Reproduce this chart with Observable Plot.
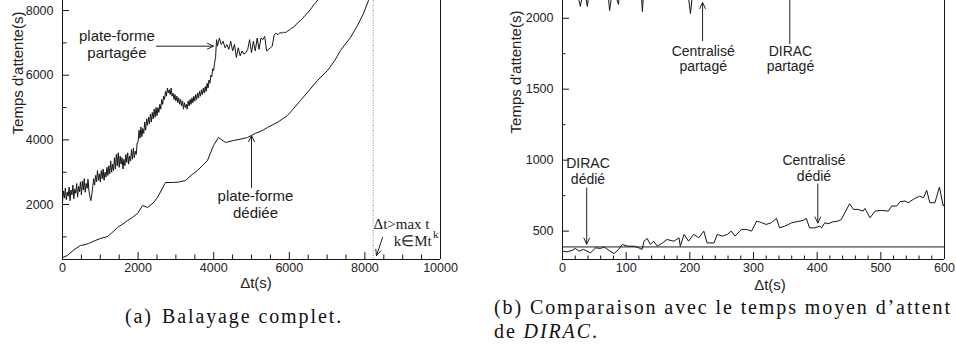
<!DOCTYPE html>
<html><head><meta charset="utf-8">
<script src="https://cdn.jsdelivr.net/npm/d3@7"></script>
<script src="https://cdn.jsdelivr.net/npm/@observablehq/plot@0.6"></script>
<style>
html,body{margin:0;padding:0;background:#fff;}
#wrap{position:relative;width:956px;height:357px;overflow:hidden;background:#fff;font-family:"Liberation Sans",Arial,sans-serif;color:#222;}
.panel{position:absolute;top:0;}
.lab{position:absolute;font-size:15px;line-height:1;white-space:nowrap;}
.ylab{transform:translate(-50%,-50%) rotate(-90deg);}
.xlab{transform:translate(-50%,-50%);line-height:11px;}
.cap{position:absolute;font-family:"Liberation Serif",serif;font-size:20px;letter-spacing:1.9px;white-space:nowrap;line-height:1;color:#111;}
</style></head>
<body><div id="wrap">
<div id="left" class="panel" style="left:0;width:480px"></div>
<div id="right" class="panel" style="left:480px;width:476px"></div>
<div class="lab ylab" style="left:17px;top:73px">Temps d'attente(s)</div>
<div class="lab ylab" style="left:515px;top:72px">Temps d'attente(s)</div>
<div class="lab xlab" style="left:256px;top:282px">Δt(s)</div>
<div class="lab xlab" style="left:770px;top:284px">Δt(s)</div>
<div class="cap" style="left:125px;top:306px">(a)<span style="margin-left:9px">Balayage complet.</span></div>
<div class="cap" style="left:494px;top:297px">(b) Comparaison avec le temps moyen d’attent</div>
<div class="cap" style="left:494px;top:321px">de <i>DIRAC</i>.</div>
</div>
<script>
// ---------- Left panel data (a) ----------
const dedieeT = [0,130,300,476,600,688,850,1005,1100,1190,1300,1455,1600,1720,1850,1984,2116,2249,2400,2513,2725,2937,3100,3254,3400,3571,3700,3836,3995,4127,4312,4524,4700,4894,5100,5291,5423,5700,5952,6100,6296,6500,6746,7011,7200,7354,7619,7804,7963,8095,8250];
const dedieeW = [362,424,600,733,760,795,880,950,980,1011,1120,1290,1400,1506,1600,1723,1971,1908,2050,2218,2682,2682,2700,2744,2900,3053,3200,3363,3827,4074,3919,3981,4020,4074,4200,4291,4384,4550,4755,4950,5218,5500,5837,6146,6450,6765,7167,7539,7910,8311,8800];
// shared platform: dense sampling (every 25 s) up to 4075 s, then every 50 s
const partageeEarlyStart = 0, partageeEarlyStep = 25;
const partageeEarlyW = [
2080,2420,2200,2510,2150,2380,2260,2540,2120,2450,2300,2600,2180,2480,2350,2650,2230,2560,2400,2700,
2300,2720,2450,2800,2380,2650,2500,2780,2420,2250,2120,2300,2550,2800,2600,2900,2700,3050,2750,2950,
2700,3050,2800,3100,2750,3000,2850,3150,2900,3200,2950,3350,3000,3250,3050,3450,3100,3550,3200,3600,
3150,3500,3250,3450,3100,3400,3200,3550,3300,3600,3250,3500,3350,3700,3400,3750,3450,3650,3550,3900,
3950,4300,4050,4400,4100,4350,4200,4550,4300,4650,4450,4700,4500,4800,4550,4850,4650,4950,4700,5000,
4750,5000,4850,5100,4950,5250,5100,5350,5250,5500,5350,5600,5450,5550,5400,5600,5350,5450,5250,5400,
5200,5350,5150,5300,5100,5250,5050,5200,4950,5150,5000,5100,4950,5200,5050,5250,5100,5300,5150,5350,
5200,5400,5250,5450,5300,5500,5350,5550,5400,5600,5450,5650,5500,5750,5600,5850,5750,6000,5950,6200,
6150,6400,6550,7100];
const partageeLateStart = 4100, partageeLateStep = 50;
const partageeLateW = [6900,7150,6950,7050,6850,6950,6800,7050,6750,6950,6550,6850,6600,6750,6650,6700,6800,7100,6700,7050,
6750,7150,6800,7150,7100,7200,6750,6800,6850,6900,7250,7300,7250,7320,7300,7330,7320,7360,7400,7450,
7480,7520,7600,7640,7700,7750,7830,7880,7950,8020,8100,8180,8250,8320,8400,8470,8550];
const maxTkMarker = 8220;
const leftXMajor = [0,2000,4000,6000,8000,10000];
const leftXMinor = [500,1000,1500,2500,3000,3500,4500,5000,5500,6500,7000,7500,8500,9000,9500];
const leftYMajor = [2000,4000,6000,8000];
const leftYMinor = [1000,3000,5000,7000];
const leftNotes = [
  {text:"plate-forme\npartagée", x:1440, y:6532},
  {text:"plate-forme\ndédiée", x:5106, y:1573}
];
const leftMathNotes = [
  {text:"Δt>max t", x:8228, y:1243, size:15},
  {text:"k∈Mt", x:8764, y:718, size:15},
  {text:"k", x:9800, y:950, size:11}
];
const leftArrows = [
  {x1:2487, y1:6898, x2:3995, y2:6898},
  {x1:5000, y1:2527, x2:5000, y2:4135},
  {x1:8466, y1:980, x2:8307, y2:424}
];

// ---------- Right panel data (b) ----------
const centralDedT = [0,7,15,20,26,33,44,52,60,65,73,81,88,94,102,112,120,125,128,133,138,143,149,157,164,175,183,185,191,198,206,214,222,227,238,243,251,259,265,271,281,289,297,305,313,320,328,336,341,349,355,360,368,378,383,388,396,404,407,412,417,425,433,438,451,457,464,472,475,483,491,501,512,517,525,530,538,543,551,561,567,572,577,585,592,598,600];
const centralDedW = [359,354,364,378,359,371,347,382,378,389,364,342,371,406,394,394,382,371,429,448,406,429,394,417,441,429,453,394,477,429,477,453,500,417,417,477,465,477,500,465,512,512,500,571,559,547,559,590,523,535,547,559,566,576,590,523,523,535,523,559,552,566,571,583,693,653,653,641,660,594,641,646,641,677,677,707,712,700,724,747,735,788,700,700,811,677,689];
const centralPartT = [0,20,28,34,39,45,70,74,79,88,92,122,125.5,129,195,201,206,215,600];
const centralPartW = [2300,2250,2083,2220,2083,2300,2250,2054,2220,2097,2300,2300,2047,2300,2250,2033,2250,2350,2400];
const diracDedie = 389;
const rightXMajor = [0,100,200,300,400,500,600];
const rightXMinor = [20,40,60,80,120,140,160,180,220,240,260,280,320,340,360,380,420,440,460,480,520,540,560,580];
const rightYMajor = [500,1000,1500,2000];
const rightYMinor = [750,1250,1750];
const rightNotes = [
  {text:"DIRAC\ndédié", x:40, y:829},
  {text:"Centralisé\ndédié", x:395, y:853},
  {text:"Centralisé\npartagé", x:221, y:1625},
  {text:"DIRAC\npartagé", x:358, y:1625}
];
const rightArrows = [
  {x1:38, y1:804, x2:38, y2:408},
  {x1:401, y1:832, x2:401, y2:557},
  {x1:220, y1:1842, x2:220, y2:2111},
  {x1:357, y1:1821, x2:357, y2:2400}
];

// ---------- tables ----------
const dedieeData = dedieeT.map((t,i)=>({t, w:dedieeW[i]}));
const partageeData = [
  ...partageeEarlyW.map((w,i)=>({t: partageeEarlyStart + i*partageeEarlyStep, w})),
  ...partageeLateW.map((w,i)=>({t: partageeLateStart + i*partageeLateStep, w}))
];
const centralDedData = centralDedT.map((t,i)=>({t, w:centralDedW[i]}));
const centralPartData = centralPartT.map((t,i)=>({t, w:centralPartW[i]}));

const INK = "#151515";
const H = 300, MB = 41, PH = H - MB;
const SANS = "Liberation Sans, Arial, sans-serif";
const baseStyle = {fontFamily:SANS, fontSize:"12.5px", color:"#222", background:"#fff", overflow:"visible"};

function panel({width, ml, mr, xd, yd, xMaj, xMin, yMaj, yMin, minLen, marks}) {
  const PW = width - ml - mr;
  return Plot.plot({
    width, height:H, marginLeft:ml, marginRight:mr, marginTop:0, marginBottom:MB,
    x:{domain:xd}, y:{domain:yd},
    style: baseStyle,
    marks: [
      ...marks,
      Plot.ruleX([xd[0], xd[1]], {stroke:INK, strokeWidth:1}),
      Plot.ruleY([yd[0]], {stroke:INK, strokeWidth:1}),
      Plot.tickX(xMaj, {insetTop:PH-7, stroke:INK}),
      Plot.tickX(xMin, {insetTop:PH-minLen, stroke:INK}),
      Plot.tickY(yMaj, {insetRight:PW-7, stroke:INK}),
      Plot.tickY(yMin, {insetRight:PW-minLen, stroke:INK}),
      Plot.axisX(xMaj, {tickSize:0, tickPadding:4, tickFormat:"d", label:null}),
      Plot.axisY(yMaj, {tickSize:0, tickPadding:9, tickFormat:"d", label:null})
    ]
  });
}

const leftPlot = panel({
  width:480, ml:62, mr:40, xd:[0,10000], yd:[300,8311],
  xMaj:leftXMajor, xMin:leftXMinor, yMaj:leftYMajor, yMin:leftYMinor, minLen:4.5,
  marks:[
    Plot.ruleX([maxTkMarker], {stroke:"#8c8c8c", strokeWidth:1, strokeDasharray:"1 1.5"}),
    Plot.line(dedieeData, {x:"t", y:"w", stroke:INK, strokeWidth:1, clip:true}),
    Plot.line(partageeData, {x:"t", y:"w", stroke:INK, strokeWidth:1, clip:true}),
    Plot.text(leftNotes, {x:"x", y:"y", text:"text", lineAnchor:"bottom", lineHeight:1.14, fontSize:15, fill:"#222", fontFamily:SANS}),
    Plot.text(leftMathNotes, {x:"x", y:"y", text:"text", lineAnchor:"bottom", textAnchor:"start", fontSize:d=>d.size, fill:"#222", fontFamily:"Liberation Serif, serif"}),
    Plot.arrow(leftArrows, {x1:"x1", y1:"y1", x2:"x2", y2:"y2", stroke:"#222", strokeWidth:1, headLength:10, headAngle:50})
  ]
});
document.getElementById("left").appendChild(leftPlot);

const rightPlot = panel({
  width:476, ml:82, mr:12, xd:[0,600], yd:[300,2125],
  xMaj:rightXMajor, xMin:rightXMinor, yMaj:rightYMajor, yMin:rightYMinor, minLen:3.5,
  marks:[
    Plot.ruleY([diracDedie], {stroke:"#7d7d7d", strokeWidth:1.8}),
    Plot.line(centralDedData, {x:"t", y:"w", stroke:INK, strokeWidth:1, clip:true}),
    Plot.line(centralPartData, {x:"t", y:"w", stroke:INK, strokeWidth:1, clip:true}),
    Plot.text(rightNotes, {x:"x", y:"y", text:"text", lineAnchor:"bottom", lineHeight:1.14, fontSize:14, fill:"#222", fontFamily:SANS}),
    Plot.arrow(rightArrows, {x1:"x1", y1:"y1", x2:"x2", y2:"y2", stroke:"#222", strokeWidth:1, headLength:10, headAngle:50, clip:true})
  ]
});
document.getElementById("right").appendChild(rightPlot);
</script>
</body></html>
